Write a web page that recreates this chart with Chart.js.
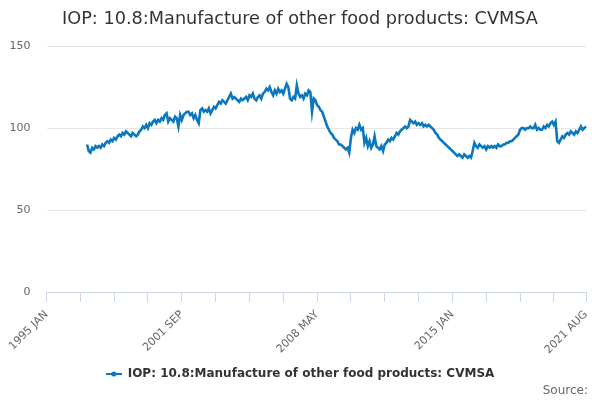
<!DOCTYPE html>
<html>
<head>
<meta charset="utf-8">
<script src="https://cdn.jsdelivr.net/npm/chart.js@4.4.0/dist/chart.umd.min.js"></script>
<style>
  html, body { margin: 0; padding: 0; background: #fff; }
  #wrap { width: 600px; height: 400px; }
</style>
</head>
<body>
<div id="wrap"><canvas id="chart"></canvas></div>
<script>
// chart text
const TITLE = 'IOP: 10.8:Manufacture of other food products: CVMSA';
const SERIES_NAME = 'IOP: 10.8:Manufacture of other food products: CVMSA';
const CREDIT = 'Source:';

// x categories: monthly, 1995 JAN .. 2021 AUG
const FIRST_YEAR = 1995;
const LAST_YEAR = 2021;
const LAST_MONTH = 8;
const MONTHS = ['JAN', 'FEB', 'MAR', 'APR', 'MAY', 'JUN', 'JUL', 'AUG', 'SEP', 'OCT', 'NOV', 'DEC'];

// y ticks
const Y_TICKS = [0, 50, 100, 150];

// no values before 1997 JAN
const GAP_MONTHS = 24;

// CVMSA index, 1997 JAN .. 2021 AUG
const cvmsa = [
  90, 86, 85, 88, 87, 89, 88, 89, 88, 90, 89, 91,          // 1997
  92, 91, 93, 92, 94, 93, 95, 96, 95, 97, 96, 98,          // 1998
  97, 96, 95, 97, 96, 95, 96, 98, 99, 101, 100, 102,       // 1999
  100, 103, 102, 104, 105, 103, 105, 104, 106, 105, 108, 109, // 2000
  104, 106, 105, 104, 107, 106, 101, 108, 105, 108, 109, 110, // 2001
  110, 108, 109, 106, 108, 105, 103, 111, 112, 110, 111, 110, // 2002
  112, 109, 111, 113, 112, 114, 116, 115, 117, 116, 115, 117, // 2003
  119, 121, 118, 119, 118, 117, 116, 118, 117, 118, 119, 117, // 2004
  120, 119, 121, 118, 117, 119, 120, 118, 121, 122, 124, 123, // 2005
  125, 122, 120, 123, 121, 124, 122, 123, 121, 124, 127, 125, // 2006
  118, 117, 119, 118, 126, 121, 119, 120, 118, 121, 120, 123, // 2007
  122, 110, 118, 117, 114, 113, 111, 110, 107, 104, 101, 99,  // 2008
  97, 96, 94, 93, 92, 90, 90, 89, 88, 87, 88, 85,          // 2009
  94, 99, 97, 100, 99, 102, 99, 100, 91, 94, 89, 92,       // 2010
  88, 90, 95, 89, 88, 87, 89, 86, 90, 91, 93, 92,          // 2011
  94, 93, 95, 97, 96, 98, 99, 100, 101, 100, 101, 105,     // 2012
  104, 103, 104, 102, 103, 102, 103, 101, 102, 101, 102, 101, // 2013
  100, 99, 97, 96, 94, 93, 92, 91, 90, 89, 88, 87,         // 2014
  86, 85, 84, 83, 84, 83, 82, 84, 83, 82, 83, 82,          // 2015
  86, 91, 89, 88, 90, 89, 88, 89, 87, 89, 88, 89,          // 2016
  88, 89, 88, 90, 89, 89, 90, 90, 91, 91, 92, 92,          // 2017
  93, 94, 95, 96, 99, 100, 100, 99, 100, 100, 101, 100,    // 2018
  100, 102, 99, 100, 99, 99, 101, 100, 102, 101, 103, 104, // 2019
  102, 104, 92, 91, 93, 95, 94, 96, 97, 96, 98, 97,        // 2020
  96, 98, 97, 99, 101, 99, 100, 101                        // 2021
];

// build category labels
const labels = [];
for (let y = FIRST_YEAR; y <= LAST_YEAR; y++) {
  for (let m = 0; m < 12; m++) {
    if (y === LAST_YEAR && m >= LAST_MONTH) break;
    labels.push(y + ' ' + MONTHS[m]);
  }
}
const LAST_INDEX = labels.length - 1;
const values = new Array(GAP_MONTHS).fill(null).concat(cvmsa);

const LINE_COLOR = '#0a77bf';

// legend symbol: short line with a dot
function makeLegendIcon() {
  const c = document.createElement('canvas');
  c.width = 16; c.height = 10;
  const g = c.getContext('2d');
  g.strokeStyle = LINE_COLOR;
  g.lineWidth = 2;
  g.beginPath(); g.moveTo(0, 5); g.lineTo(16, 5); g.stroke();
  g.fillStyle = LINE_COLOR;
  g.beginPath(); g.arc(8, 5, 2.5, 0, Math.PI * 2); g.fill();
  return c;
}

// "Source:" credit in the bottom right corner
const creditPlugin = {
  id: 'credit',
  afterDraw(chart) {
    const ctx = chart.ctx;
    ctx.save();
    ctx.font = '12px "DejaVu Sans", sans-serif';
    ctx.fillStyle = '#666666';
    ctx.textAlign = 'right';
    ctx.textBaseline = 'middle';
    ctx.fillText(CREDIT, chart.width - 12, chart.height - 9);
    ctx.restore();
  }
};

Chart.defaults.font.family = '"DejaVu Sans", sans-serif';

const isTick = i => i % 20 === 0 || i === LAST_INDEX;
const isLabel = i => i % 80 === 0 || i === LAST_INDEX;

new Chart(document.getElementById('chart').getContext('2d'), {
  type: 'line',
  data: {
    labels: labels,
    datasets: [{
      label: SERIES_NAME,
      data: values,
      borderColor: LINE_COLOR,
      backgroundColor: LINE_COLOR,
      borderWidth: 2.6,
      pointRadius: 0,
      tension: 0,
      fill: false
    }]
  },
  plugins: [creditPlugin],
  options: {
    responsive: true,
    maintainAspectRatio: false,
    animation: false,
    layout: { padding: { left: 8, right: 8, top: 0, bottom: 10 } },
    plugins: {
      title: {
        display: true,
        text: TITLE,
        color: '#333333',
        font: { size: 17.7, weight: 'normal' },
        padding: { top: 8.5, bottom: 16.4 }
      },
      legend: {
        position: 'bottom',
        labels: {
          usePointStyle: true,
          pointStyle: makeLegendIcon(),
          pointStyleWidth: 16,
          color: '#333333',
          font: { size: 12, weight: 'bold' },
          padding: 4
        }
      },
      tooltip: { enabled: false }
    },
    scales: {
      x: {
        type: 'category',
        border: { display: true, color: '#ccd6eb', width: 1 },
        grid: {
          drawOnChartArea: false,
          drawTicks: true,
          tickLength: 10,
          color: ctx => isTick(ctx.index) ? '#ccd6eb' : 'rgba(0,0,0,0)',
          tickColor: ctx => isTick(ctx.index) ? '#ccd6eb' : 'rgba(0,0,0,0)'
        },
        ticks: {
          autoSkip: false,
          minRotation: 45,
          maxRotation: 45,
          padding: 6,
          color: '#666666',
          font: { size: 11 },
          callback: function (v, i) {
            return isLabel(i) ? this.getLabelForValue(v) : '';
          }
        },
        afterFit: s => {
          s.paddingLeft = 0;
          s.paddingRight = 14;
          s.height = 72;
        }
      },
      y: {
        min: 0,
        max: 150,
        afterBuildTicks: s => { s.ticks = Y_TICKS.map(v => ({ value: v })); },
        afterFit: s => { s.width = 38.5; },
        border: { display: false },
        grid: { color: '#e6e6e6', drawTicks: false },
        ticks: { color: '#666666', font: { size: 11 }, padding: 16 }
      }
    }
  }
});
</script>
</body>
</html>
